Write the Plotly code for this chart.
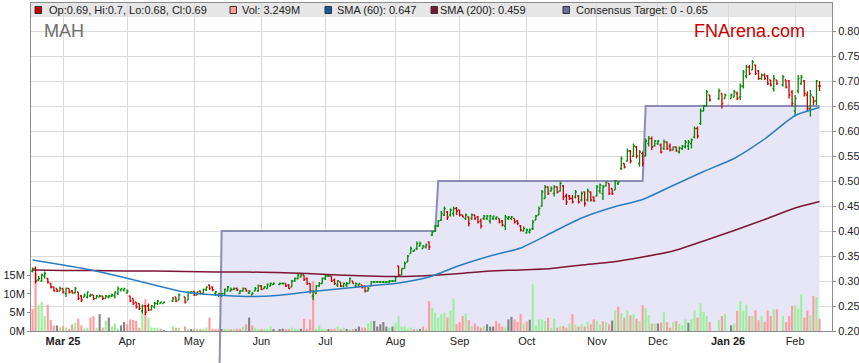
import pandas as pd
import plotly.graph_objects as go

# ---------------- data ----------------
holidays = ["2025-04-18", "2025-04-21", "2025-04-25", "2025-06-09",
            "2025-12-25", "2025-12-26", "2026-01-01", "2026-01-26"]
trading_days = [d for d in pd.bdate_range("2025-02-17", "2026-02-12")
                if d.strftime("%Y-%m-%d") not in holidays]

open_ = [
    .320, .325, .302, .300, .310, .305, .295, .288, .285, .280,
    .285, .275, .285, .280, .276, .278, .270, .268, .268, .270,
    .272, .265, .268, .270, .265, .268, .270, .270, .275, .282,
    .282, .276, .270, .265, .258, .255, .240, .250, .250, .242,
    .248, .255, .255, .255, .260, .268, .262,
    .268, .262, .276, .279, .272, .280, .275, .282, .292, .288,
    .275, .272, .272, .275, .280, .280, .283, .285, .275, .280,
    .285, .276, .272, .280, .280, .290, .285, .285, .290, .293,
    .293, .295, .295, .292,
    .288, .300, .305, .308, .312, .305, .295, .270, .275, .290,
    .295, .305, .310, .310, .302, .292, .298, .290, .292, .295,
    .300, .290, .292, .292, .290, .280, .290, .298, .298, .298,
    .298, .298, .298, .300, .300, .330, .312, .325, .338, .355,
    .360, .365, .370, .365, .368, .378, .392, .400, .410, .422,
    .432, .438, .432, .435, .445, .442, .432, .425, .428, .425,
    .432, .428, .420, .425, .425, .420, .425, .425, .425, .420,
    .410, .425, .425, .425, .420, .410, .400, .396, .398, .405,
    .422, .432, .450, .465, .488, .480, .475, .488, .480, .490,
    .470, .470, .465, .468, .470, .462, .478, .462, .478, .468,
    .470, .480, .475, .490, .495, .485, .482, .495, .525, .535,
    .540, .560, .550, .568, .535, .555, .550, .575, .585, .570,
    .575, .572, .565, .578, .570, .562, .568, .558, .565, .568,
    .570, .575, .588, .605, .615, .640, .650, .672,
    .665, .675, .665, .665,
    .668, .675, .668, .690, .710, .728, .722, .732, .720, .705,
    .712, .710, .702, .685, .702, .692, .702, .700, .678,
    .640, .680, .695, .700, .672, .645, .668, .660, .690,
]
high = [
    .327, .329, .310, .315, .319, .306, .296, .289, .285, .289,
    .285, .287, .285, .282, .288, .278, .272, .275, .279, .275,
    .272, .272, .272, .270, .272, .272, .275, .279, .289, .285,
    .285, .283, .270, .265, .258, .255, .253, .252, .255, .252,
    .258, .262, .258, .258, .268, .268, .275,
    .268, .279, .280, .280, .279, .281, .285, .289, .293, .289,
    .280, .275, .276, .285, .290, .287, .287, .287, .282, .287,
    .285, .282, .278, .288, .293, .292, .290, .295, .297, .297,
    .297, .297, .295, .294,
    .302, .307, .315, .315, .312, .307, .295, .282, .292, .298,
    .307, .312, .312, .310, .305, .302, .298, .297, .298, .307,
    .300, .297, .295, .292, .290, .288, .300, .300, .300, .300,
    .300, .300, .302, .302, .309, .330, .325, .339, .352, .369,
    .362, .379, .379, .372, .375, .379, .400, .412, .422, .440,
    .449, .440, .445, .449, .448, .442, .432, .435, .429, .435,
    .432, .430, .425, .432, .432, .432, .430, .429, .425, .422,
    .432, .430, .430, .425, .422, .412, .409, .405, .405, .422,
    .432, .449, .482, .492, .489, .489, .492, .489, .499, .492,
    .475, .472, .472, .482, .472, .479, .479, .485, .479, .469,
    .492, .495, .492, .499, .495, .485, .502, .499, .549, .535,
    .565, .562, .575, .570, .562, .559, .585, .590, .589, .582,
    .582, .575, .583, .579, .575, .569, .569, .569, .572, .582,
    .582, .585, .609, .609, .645, .652, .682, .672,
    .685, .675, .675, .675,
    .682, .679, .695, .722, .732, .732, .742, .732, .722, .715,
    .715, .712, .702, .712, .702, .712, .702, .702, .682,
    .672, .712, .712, .702, .679, .682, .668, .702, .700,
]
low = [
    .317, .295, .300, .299, .305, .295, .285, .279, .278, .280,
    .275, .268, .275, .275, .275, .262, .258, .268, .265, .268,
    .262, .265, .268, .262, .265, .265, .268, .265, .272, .279,
    .279, .275, .258, .252, .245, .242, .235, .232, .240, .242,
    .245, .252, .255, .255, .258, .258, .262,
    .255, .262, .276, .270, .272, .273, .275, .280, .282, .280,
    .270, .268, .268, .272, .280, .279, .282, .280, .274, .279,
    .279, .274, .272, .280, .279, .282, .285, .285, .289, .292,
    .292, .293, .288, .284,
    .288, .298, .303, .307, .300, .292, .275, .262, .274, .288,
    .295, .302, .308, .298, .292, .288, .288, .287, .288, .295,
    .295, .287, .287, .285, .277, .279, .290, .296, .296, .296,
    .296, .296, .296, .298, .298, .309, .312, .325, .338, .355,
    .358, .362, .369, .365, .365, .362, .390, .398, .408, .420,
    .430, .422, .429, .429, .432, .429, .428, .422, .409, .422,
    .422, .415, .405, .422, .422, .415, .422, .422, .415, .409,
    .402, .422, .422, .415, .412, .399, .399, .395, .395, .402,
    .422, .432, .449, .465, .472, .479, .469, .475, .479, .462,
    .452, .462, .455, .465, .455, .459, .449, .459, .459, .459,
    .469, .475, .462, .489, .472, .472, .482, .492, .522, .525,
    .539, .535, .548, .545, .529, .529, .549, .569, .562, .569,
    .572, .555, .562, .562, .559, .561, .559, .555, .562, .565,
    .562, .565, .585, .585, .612, .639, .649, .659,
    .662, .645, .665, .665,
    .668, .662, .662, .685, .705, .712, .722, .712, .702, .702,
    .702, .692, .689, .679, .692, .689, .685, .665, .649,
    .629, .675, .692, .669, .639, .629, .652, .652, .680,
]
close = [
    .325, .300, .305, .312, .315, .298, .288, .280, .280, .285,
    .278, .285, .278, .276, .285, .265, .262, .272, .278, .272,
    .265, .270, .270, .265, .270, .270, .272, .278, .285, .285,
    .285, .280, .260, .255, .248, .245, .250, .238, .242, .250,
    .255, .260, .258, .258, .265, .260, .272,
    .258, .278, .278, .272, .278, .275, .283, .288, .285, .282,
    .278, .275, .275, .283, .288, .283, .285, .282, .280, .285,
    .280, .280, .275, .285, .290, .283, .288, .293, .295, .295,
    .295, .295, .290, .285,
    .300, .305, .312, .312, .303, .295, .280, .278, .290, .295,
    .305, .310, .310, .300, .295, .300, .290, .295, .295, .305,
    .295, .295, .295, .287, .280, .285, .298, .298, .298, .298,
    .298, .298, .300, .300, .308, .312, .325, .335, .350, .365,
    .362, .375, .375, .370, .372, .368, .398, .410, .420, .435,
    .445, .428, .442, .445, .440, .432, .428, .432, .415, .432,
    .425, .418, .410, .430, .430, .430, .430, .428, .418, .412,
    .428, .428, .428, .418, .415, .402, .405, .402, .402, .418,
    .430, .445, .478, .488, .475, .485, .488, .478, .495, .468,
    .458, .465, .458, .478, .458, .475, .455, .480, .462, .460,
    .488, .492, .488, .498, .475, .475, .500, .498, .545, .528,
    .560, .540, .570, .550, .558, .535, .580, .585, .568, .580,
    .580, .558, .578, .565, .562, .568, .560, .566, .570, .578,
    .578, .582, .605, .590, .640, .650, .678, .662,
    .680, .655, .672, .672,
    .678, .665, .690, .718, .728, .715, .738, .715, .705, .712,
    .705, .695, .692, .705, .695, .708, .688, .672, .655,
    .665, .705, .708, .675, .645, .672, .660, .700, .690,
]
volume_m = [
    6.0, 15.5, 6.9, 7.8, 4.0, 7.0, 3.0, 1.5, 1.5, 1.0,
    1.3, 0.9, 0.6, 1.8, 2.2, 3.3, 1.5, 0.6, 0.9, 3.6,
    4.0, 0.9, 4.5, 0.9, 2.7, 3.6, 1.2, 2.0, 0.6, 1.5,
    2.4, 1.8, 3.1, 3.0, 2.7, 0.9, 4.9, 8.5, 3.6, 0.9,
    0.9, 0.9, 0.45, 0.2, 1.2, 0.9, 0.9,
    1.2, 0.6, 0.45, 0.6, 0.45, 0.45, 0.6, 0.9, 3.6, 0.6,
    0.45, 0.6, 0.5, 0.6, 0.45, 0.45, 0.45, 0.6, 0.6, 1.2,
    1.8, 3.6, 1.5, 0.9, 0.6, 0.45, 0.6, 0.45, 1.2, 0.45,
    0.45, 0.6, 0.45, 0.6,
    0.9, 0.6, 0.45, 0.6, 3.3, 0.6, 3.1, 13.4, 0.45, 1.5,
    0.6, 0.45, 0.45, 0.3, 0.6, 1.2, 0.45, 0.9, 0.45, 0.3,
    0.45, 0.6, 1.2, 0.9, 0.9, 2.0, 2.7, 2.7, 1.2, 1.8,
    2.4, 1.2, 0.9, 1.2, 2.2, 4.0, 1.2, 1.3, 0.6, 0.9,
    0.45, 0.6, 0.45, 1.2, 0.6, 8.0, 6.2, 4.9, 3.6, 4.5,
    4.9, 3.6, 5.4, 8.7, 1.8, 2.4, 4.0, 4.7, 2.9, 1.3,
    2.0, 1.2, 0.9, 1.3, 1.8, 1.2, 1.2, 2.7, 2.0, 1.2,
    0.9, 3.1, 3.8, 3.1, 2.4, 4.5, 2.0, 2.5, 3.0, 12.5,
    1.5, 3.1, 3.1, 2.7, 3.6, 0.9, 3.3, 0.9, 1.3, 1.3,
    0.9, 2.0, 4.5, 1.8, 1.2, 1.8, 1.2, 2.4, 1.8, 3.1,
    2.8, 1.8, 2.6, 2.4, 1.8, 2.8, 5.5, 6.5, 4.7, 3.6,
    5.5, 4.2, 4.5, 3.3, 2.7, 6.9, 6.2, 4.2, 2.0, 2.0,
    2.0, 2.2, 5.1, 2.4, 0.9, 2.4, 2.7, 2.0, 1.5, 3.1,
    2.2, 3.1, 5.5, 3.6, 7.4, 5.1, 4.0, 2.4,
    2.9, 4.0, 4.5, 1.5,
    2.0, 5.4, 8.0, 5.4, 7.1, 4.0, 4.0, 5.5, 2.9, 4.0,
    2.4, 5.5, 4.0, 5.8, 5.8, 4.0, 2.4, 4.0, 6.7,
    6.9, 6.0, 9.8, 3.6, 5.5, 4.2, 9.4, 9.1, 3.249,
]

sma_dates = ["2025-02-17", "2025-03-03", "2025-03-17", "2025-03-31", "2025-04-14",
             "2025-04-28", "2025-05-12", "2025-05-26", "2025-06-09", "2025-06-23",
             "2025-07-07", "2025-07-21", "2025-08-04", "2025-08-18", "2025-09-01",
             "2025-09-15", "2025-09-29", "2025-10-13", "2025-10-27", "2025-11-10",
             "2025-11-24", "2025-12-08", "2025-12-22", "2026-01-05", "2026-01-19",
             "2026-02-02", "2026-02-12"]
sma60 = [.342, .332, .321, .307, .292, .278, .272, .269, .271, .278, .284, .290, .296,
         .308, .331, .350, .366, .396, .426, .447, .463, .491, .519, .545, .584, .631, .647]
sma200 = [.322, .321, .321, .320, .320, .319, .318, .318, .317, .315, .312, .310, .309,
          .311, .315, .320, .322, .325, .332, .338, .348, .360, .380, .401, .423, .446, .459]

target_dates = ["2025-02-17", "2025-05-13", "2025-05-14", "2025-08-20",
                "2025-08-21", "2025-11-24", "2025-11-25", "2026-02-12"]
target_vals = [0, 0, 0.40, 0.40, 0.50, 0.50, 0.65, 0.65]

month_ticks = ["2025-03-03", "2025-04-01", "2025-05-01", "2025-06-02", "2025-07-01",
               "2025-08-01", "2025-09-01", "2025-10-01", "2025-11-03", "2025-12-01",
               "2026-01-01", "2026-02-02"]
month_labels = ["<b>Mar 25</b>", "Apr", "May", "Jun", "Jul", "Aug", "Sep", "Oct",
                "Nov", "Dec", "<b>Jan 26</b>", "Feb"]
price_ticks = [0.20, 0.25, 0.30, 0.35, 0.40, 0.45, 0.50, 0.55, 0.60, 0.65, 0.70, 0.75, 0.80]
vol_ticks = [0, 5, 10, 15]

# ---------------- style ----------------
FONT = "Liberation Sans, Arial, sans-serif"
GRID = "#dadada"
FRAME = "#8c8c8c"
UP = "#008a00"
DOWN = "#d00000"
BLUE = "#2a7dbf"
MAROON = "#7d1535"
TGT_LINE = "rgba(115,115,165,0.8)"
TGT_FILL = "#e6e6f6"

noon = pd.Timedelta(hours=12)
dates = [d + noon for d in trading_days]
sd = [pd.Timestamp(s) + noon for s in sma_dates]
td = [pd.Timestamp(s) + noon for s in target_dates]

vol_colors = []
for i, c in enumerate(close):
    prev = close[i - 1] if i > 0 else None
    if prev is None or c < prev:
        vol_colors.append("#ff9c9c")
    elif c > prev:
        vol_colors.append("#9cf09c")
    else:
        vol_colors.append("#858585")

fig = go.Figure()
fig.add_trace(go.Scatter(x=td, y=target_vals, mode="lines", fill="tozeroy",
                         fillcolor=TGT_FILL, line=dict(color=TGT_LINE, width=2),
                         hoverinfo="skip"))
fig.add_trace(go.Bar(x=dates, y=volume_m, yaxis="y2", marker_color=vol_colors,
                     marker_line_width=0, hoverinfo="skip"))
fig.add_trace(go.Scatter(x=sd, y=sma200, yaxis="y3", mode="lines",
                         line=dict(color=MAROON, width=1.5, shape="spline", smoothing=0.6),
                         hoverinfo="skip"))
fig.add_trace(go.Scatter(x=sd, y=sma60, yaxis="y3", mode="lines",
                         line=dict(color=BLUE, width=1.5, shape="spline", smoothing=0.6),
                         hoverinfo="skip"))
fig.add_trace(go.Ohlc(x=dates, open=open_, high=high, low=low, close=close, yaxis="y3",
                      increasing=dict(line=dict(color=UP)),
                      decreasing=dict(line=dict(color=DOWN)),
                      line=dict(width=1.3), tickwidth=0.45, hoverinfo="skip"))

L, R, T, B = 31, 832, 3, 331
W, H = R - L, B - T


def px2x(px):
    return (px - L) / W


def py2y(py):
    return (B - py) / H


# vertical start of the consensus target line, continued below the axis
t0, t1 = td[1], td[2]
p_bottom = 0.20 - (363 - B) / H * (0.856 - 0.20)
x_low = t0 + (t1 - t0) * (p_bottom / target_vals[2])
x_axis = t0 + (t1 - t0) * (0.20 / target_vals[2])

shapes = [
    dict(type="rect", xref="paper", yref="paper", x0=0, x1=1, y0=py2y(17), y1=1,
         fillcolor="#e6e6e6", line=dict(width=0), layer="between"),
    dict(type="line", xref="x", yref="paper", x0=x_low, x1=x_axis, y0=py2y(363), y1=0,
         line=dict(color=TGT_LINE, width=2)),
]
legend_items = [
    (35, 46.5, "#cc0000", "Op:0.69, Hi:0.7, Lo:0.68, Cl:0.69"),
    (230, 239.5, "#ff9c9c", "Vol: 3.249M"),
    (325, 335, "#0f5c9e", "SMA (60): 0.647"),
    (431, 437.5, "#7d1535", "SMA (200): 0.459"),
    (563, 574, "#6e6e9e", "Consensus Target: 0 - 0.65"),
]
annotations = []
for sx, tx, col, txt in legend_items:
    shapes.append(dict(type="rect", xref="paper", yref="paper",
                       x0=px2x(sx), x1=px2x(sx + 6.5), y0=py2y(13.5), y1=py2y(6.5),
                       fillcolor=col, line=dict(color="#333333", width=1), layer="above"))
    annotations.append(dict(xref="paper", yref="paper", x=px2x(tx), y=py2y(10),
                            xanchor="left", yanchor="middle", showarrow=False, text=txt,
                            font=dict(family=FONT, size=11, color="#222222")))
annotations.append(dict(xref="paper", yref="paper", x=px2x(42), y=py2y(31),
                        xanchor="left", yanchor="middle", showarrow=False, text="MAH",
                        font=dict(family=FONT, size=18, color="#6e6e6e")))
annotations.append(dict(xref="paper", yref="paper", x=px2x(692), y=py2y(31),
                        xanchor="left", yanchor="middle", showarrow=False, text="FNArena.com",
                        font=dict(family=FONT, size=18, color="#cc0000")))

fig.update_layout(
    width=859, height=363,
    margin=dict(l=L, r=859 - R, t=T, b=363 - B, autoexpand=False),
    paper_bgcolor="white", plot_bgcolor="white", showlegend=False,
    font=dict(family=FONT, size=11, color="#222222"),
    bargap=0.3,
    xaxis=dict(type="date", range=["2025-02-17 00:00", "2026-02-18 14:00"],
               rangebreaks=[dict(bounds=["sat", "mon"])],
               tickvals=[pd.Timestamp(s) + noon for s in month_ticks], ticktext=month_labels,
               showgrid=True, gridcolor=GRID, gridwidth=1,
               showline=True, linecolor=FRAME, linewidth=1, mirror=True,
               ticks="", rangeslider=dict(visible=False),
               tickfont=dict(family=FONT, size=11, color="#222222")),
    yaxis=dict(side="right", range=[0.20, 0.856], tickvals=price_ticks, tickformat=".2f",
               showgrid=True, gridcolor=GRID, gridwidth=1, zeroline=False,
               showline=True, linecolor=FRAME, linewidth=1,
               ticks="outside", ticklen=3, tickcolor=FRAME,
               tickfont=dict(family=FONT, size=11, color="#222222")),
    yaxis2=dict(overlaying="y", side="left", range=[0, 87.9], tickvals=vol_ticks,
                ticktext=[f"{v}M" for v in vol_ticks], showgrid=False, zeroline=False,
                showline=True, linecolor=FRAME, linewidth=1,
                ticks="outside", ticklen=3, tickcolor=FRAME,
                tickfont=dict(family=FONT, size=11, color="#222222")),
    yaxis3=dict(overlaying="y", range=[0.20, 0.856], visible=False),
    shapes=shapes, annotations=annotations,
)

assert len(trading_days) == len(open_) == len(high) == len(low) == len(close) == len(volume_m)
fig.write_html("out.html", config={"displayModeBar": False},
               post_script="document.body.style.margin='0';document.body.style.overflow='hidden';")
